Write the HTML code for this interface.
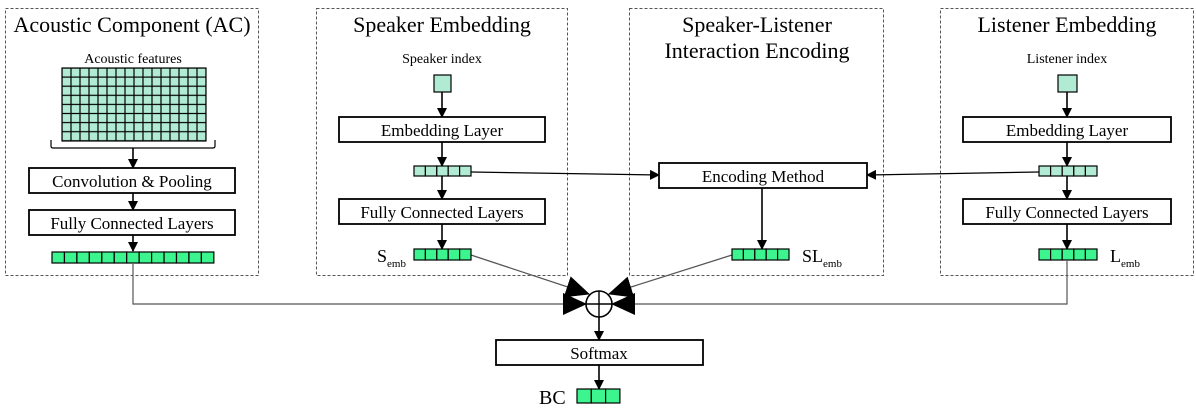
<!DOCTYPE html>
<html><head><meta charset="utf-8"><style>
html,body{margin:0;padding:0;background:#fff;}
svg{display:block;font-family:"Liberation Serif",serif;}
</style></head><body>
<svg width="1196" height="415" viewBox="0 0 1196 415" xmlns="http://www.w3.org/2000/svg">
<defs>
<marker id="a" markerWidth="10" markerHeight="10" refX="9" refY="5" orient="auto" markerUnits="userSpaceOnUse"><path d="M0,0 L10,5 L0,10 z" fill="#000"/></marker>
<marker id="b" markerWidth="24" markerHeight="22" refX="23" refY="11" orient="auto" markerUnits="userSpaceOnUse"><path d="M0,0 L24,11 L0,22 z" fill="#000"/></marker>
<pattern id="g" x="62" y="68" width="9" height="9.1" patternUnits="userSpaceOnUse"><rect x="0" y="0" width="9" height="9.1" fill="#b2ebd3" stroke="#000" stroke-width="1.2"/></pattern>
</defs>
<g fill="none" stroke="#555" stroke-width="1" stroke-dasharray="3,2">
<rect x="5.5" y="8.5" width="253" height="267"/>
<rect x="316.5" y="8.5" width="251" height="267"/>
<rect x="629.5" y="8.5" width="254" height="267"/>
<rect x="940.5" y="8.5" width="253" height="267"/>
</g>
<g font-size="22" text-anchor="middle" fill="#000">
<text x="132" y="32">Acoustic Component (AC)</text>
<text x="442" y="32">Speaker Embedding</text>
<text x="757" y="32">Speaker-Listener</text>
<text x="757" y="58">Interaction Encoding</text>
<text x="1067" y="32">Listener Embedding</text>
</g>
<g font-size="14" text-anchor="middle">
<text x="133" y="63">Acoustic features</text>
<text x="442" y="63">Speaker index</text>
<text x="1067" y="63">Listener index</text>
</g>
<rect x="62" y="68" width="144" height="73" fill="url(#g)" stroke="#000" stroke-width="1.2"/>
<path d="M51,140 v6 q0,2 2,2 h160 q2,0 2,-2 v-6" fill="none" stroke="#000" stroke-width="1.2"/>
<g stroke="#000" stroke-width="1.6" fill="none">
<line x1="133" y1="148" x2="133" y2="168" marker-end="url(#a)"/>
<line x1="133" y1="193" x2="133" y2="210" marker-end="url(#a)"/>
<line x1="133" y1="235" x2="133" y2="251" marker-end="url(#a)"/>
<line x1="442" y1="92" x2="442" y2="117" marker-end="url(#a)"/>
<line x1="442" y1="142" x2="442" y2="166" marker-end="url(#a)"/>
<line x1="442" y1="176" x2="442" y2="199" marker-end="url(#a)"/>
<line x1="442" y1="224" x2="442" y2="249" marker-end="url(#a)"/>
<line x1="1067" y1="92" x2="1067" y2="117" marker-end="url(#a)"/>
<line x1="1067" y1="142" x2="1067" y2="166" marker-end="url(#a)"/>
<line x1="1067" y1="176" x2="1067" y2="199" marker-end="url(#a)"/>
<line x1="1067" y1="224" x2="1067" y2="249" marker-end="url(#a)"/>
<line x1="762" y1="188" x2="762" y2="249" marker-end="url(#a)"/>
<line x1="599" y1="317" x2="599" y2="340" marker-end="url(#a)"/>
<line x1="599" y1="365" x2="599" y2="389" marker-end="url(#a)"/>
</g>
<g stroke="#000" stroke-width="1.2" fill="none">
<line x1="471" y1="172" x2="659" y2="175" marker-end="url(#a)"/>
<line x1="1039" y1="172" x2="867" y2="175" marker-end="url(#a)"/>
</g>
<g stroke="#555" stroke-width="1.2" fill="none">
<line x1="471" y1="255" x2="589" y2="294" marker-end="url(#b)"/>
<line x1="732" y1="255" x2="609" y2="294" marker-end="url(#b)"/>
<polyline points="133,264 133,304 586,304" marker-end="url(#b)"/>
<polyline points="1067,261 1067,304 612,304" marker-end="url(#b)"/>
</g>
<circle cx="599" cy="304" r="13" fill="#fff" stroke="#000" stroke-width="1.6"/>
<path d="M586,304 H612 M599,291 V317" stroke="#000" stroke-width="1.4"/>
<g fill="#fff" stroke="#000" stroke-width="1.8">
<rect x="29" y="168" width="206" height="25"/>
<rect x="29" y="210" width="206" height="25"/>
<rect x="339" y="117" width="206" height="25"/>
<rect x="339" y="199" width="206" height="25"/>
<rect x="963" y="117" width="208" height="25"/>
<rect x="963" y="199" width="208" height="25"/>
<rect x="659" y="163" width="208" height="25"/>
<rect x="496" y="340" width="207" height="25"/>
</g>
<g font-size="17" text-anchor="middle">
<text x="132" y="187">Convolution &amp; Pooling</text>
<text x="132" y="229">Fully Connected Layers</text>
<text x="442" y="136">Embedding Layer</text>
<text x="442" y="218">Fully Connected Layers</text>
<text x="1067" y="136">Embedding Layer</text>
<text x="1067" y="218">Fully Connected Layers</text>
<text x="763" y="182">Encoding Method</text>
<text x="599" y="359">Softmax</text>
</g>
<g stroke="#000" stroke-width="1.2">
<rect x="434" y="75" width="17" height="17" fill="#b2ebd3"/>
<rect x="1058" y="75" width="19" height="17" fill="#b2ebd3"/>
</g>
<g stroke="#000" stroke-width="1.2" fill="#b2ebd3">
<rect x="414" y="166" width="11.4" height="10"/><rect x="425.4" y="166" width="11.4" height="10"/><rect x="436.8" y="166" width="11.4" height="10"/><rect x="448.2" y="166" width="11.4" height="10"/><rect x="459.6" y="166" width="11.4" height="10"/>
<rect x="1039" y="166" width="11.6" height="10"/><rect x="1050.6" y="166" width="11.6" height="10"/><rect x="1062.2" y="166" width="11.6" height="10"/><rect x="1073.8" y="166" width="11.6" height="10"/><rect x="1085.4" y="166" width="11.6" height="10"/>
</g>
<g stroke="#000" stroke-width="1.2" fill="#3cf58f">
<rect x="414" y="249" width="11.4" height="11"/><rect x="425.4" y="249" width="11.4" height="11"/><rect x="436.8" y="249" width="11.4" height="11"/><rect x="448.2" y="249" width="11.4" height="11"/><rect x="459.6" y="249" width="11.4" height="11"/>
<rect x="732" y="249" width="11.4" height="11"/><rect x="743.4" y="249" width="11.4" height="11"/><rect x="754.8" y="249" width="11.4" height="11"/><rect x="766.2" y="249" width="11.4" height="11"/><rect x="777.6" y="249" width="11.4" height="11"/>
<rect x="1039" y="249" width="11.6" height="11"/><rect x="1050.6" y="249" width="11.6" height="11"/><rect x="1062.2" y="249" width="11.6" height="11"/><rect x="1073.8" y="249" width="11.6" height="11"/><rect x="1085.4" y="249" width="11.6" height="11"/>
<rect x="577" y="389" width="14.3" height="14"/><rect x="591.3" y="389" width="14.3" height="14"/><rect x="605.6" y="389" width="14.3" height="14"/>
<rect x="52" y="252" width="12.45" height="11"/><rect x="64.45" y="252" width="12.45" height="11"/><rect x="76.9" y="252" width="12.45" height="11"/><rect x="89.35" y="252" width="12.45" height="11"/><rect x="101.8" y="252" width="12.45" height="11"/><rect x="114.25" y="252" width="12.45" height="11"/><rect x="126.7" y="252" width="12.45" height="11"/><rect x="139.15" y="252" width="12.45" height="11"/><rect x="151.6" y="252" width="12.45" height="11"/><rect x="164.05" y="252" width="12.45" height="11"/><rect x="176.5" y="252" width="12.45" height="11"/><rect x="188.95" y="252" width="12.45" height="11"/><rect x="201.4" y="252" width="12.45" height="11"/>
</g>
<g font-size="18">
<text x="377" y="262">S<tspan font-size="11" dy="5">emb</tspan></text>
<text x="802" y="262">SL<tspan font-size="11" dy="5">emb</tspan></text>
<text x="1110" y="262">L<tspan font-size="11" dy="5">emb</tspan></text>
<text x="539" y="404" font-size="20">BC</text>
</g>
</svg>
</body></html>
